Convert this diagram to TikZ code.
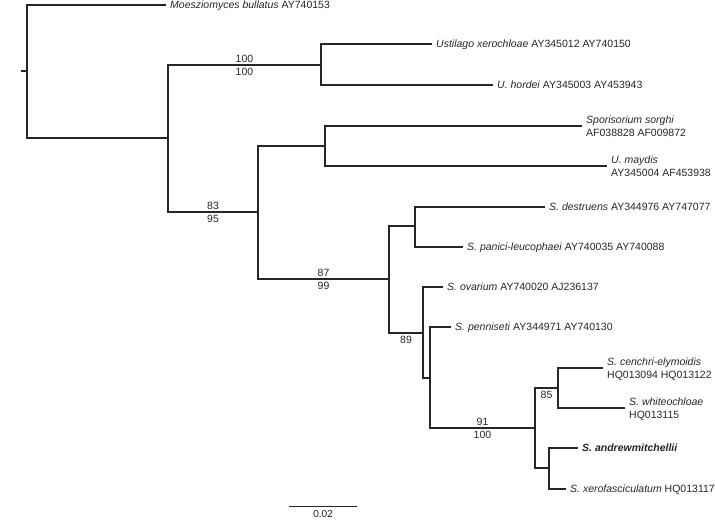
\documentclass[tikz,border=0pt]{standalone}
\usepackage{fontspec}
\setmainfont{Liberation Sans}
\newfontfamily\scalebarfont{Carlito}
\usetikzlibrary{positioning}

\begin{document}
\begin{tikzpicture}[
    x=1pt, y=-1pt,
    branch/.style={line width=1.6pt, line join=miter, color=black!85},
    taxon/.style={anchor=west, inner xsep=4pt, inner ysep=1pt, align=left, text depth=0pt,
                  font=\fontsize{10.5}{12.6}\selectfont, color=black!85},
    support/.style={font=\fontsize{10.5}{12}\selectfont, inner sep=2pt, color=black!85},
]
    \useasboundingbox (0,0) rectangle (715,520);

    % Internal nodes
    \coordinate (stub) at (21,71);
    \coordinate (root) at (27,71);
    \coordinate (nA) at (168,138);
    \coordinate (nB) at (321,65);
    \coordinate (nD) at (258,212);
    \coordinate (nC) at (325,146);
    \coordinate (nE) at (389,279);
    \coordinate (nF) at (415,226);
    \coordinate (nG) at (423,333);
    \coordinate (nH) at (430,378);
    \coordinate (nI) at (535,428);
    \coordinate (nJ) at (558,388);
    \coordinate (nK) at (549,468);

    % Taxa
    \node[taxon] (moes) at (166,5) {\textit{Moesziomyces bullatus} AY740153};
    \node[taxon] (ustx) at (432,44) {\textit{Ustilago xerochloae} AY345012 AY740150};
    \node[taxon] (uhor) at (493,85) {\textit{U. hordei} AY345003 AY453943};
    \node[taxon] (ssor) at (582,126) {\textit{Sporisorium sorghi}\\AF038828 AF009872};
    \node[taxon] (umay) at (607,166) {\textit{U. maydis}\\AY345004 AF453938};
    \node[taxon] (sdes) at (545,207) {\textit{S. destruens} AY344976 AY747077};
    \node[taxon] (span) at (463,247) {\textit{S. panici-leucophaei} AY740035 AY740088};
    \node[taxon] (sova) at (443,287) {\textit{S. ovarium} AY740020 AJ236137};
    \node[taxon] (spen) at (451,327) {\textit{S. penniseti} AY344971 AY740130};
    \node[taxon] (scen) at (603,368) {\textit{S. cenchri-elymoidis}\\HQ013094 HQ013122};
    \node[taxon] (swhi) at (625,408) {\textit{S. whiteochloae}\\HQ013115};
    \node[taxon] (sand) at (578,448) {\textbf{\textit{S. andrewmitchellii}}};
    \node[taxon] (sxer) at (566,489) {\textit{S. xerofasciculatum} HQ013117};

    % Branches
    \draw[branch] (stub) -- (root);
    \draw[branch] (root) |- (moes);
    \draw[branch] (root) |- (nA);
    \draw[branch] (nA) |- (nB)
        node[support, pos=0.75, above] {100} node[support, pos=0.75, below] {100};
    \draw[branch] (nA) |- (nD)
        node[support, pos=0.75, above] {83} node[support, pos=0.75, below] {95};
    \draw[branch] (nB) |- (ustx);
    \draw[branch] (nB) |- (uhor);
    \draw[branch] (nD) |- (nC);
    \draw[branch] (nD) |- (nE)
        node[support, pos=0.75, above] {87} node[support, pos=0.75, below] {99};
    \draw[branch] (nC) |- (ssor);
    \draw[branch] (nC) |- (umay);
    \draw[branch] (nE) |- (nF);
    \draw[branch] (nE) |- (nG)
        node[support, pos=0.75, below] {89};
    \draw[branch] (nF) |- (sdes);
    \draw[branch] (nF) |- (span);
    \draw[branch] (nG) |- (sova);
    \draw[branch] (nG) |- (nH);
    \draw[branch] (nH) |- (spen);
    \draw[branch] (nH) |- (nI)
        node[support, pos=0.75, above] {91} node[support, pos=0.75, below] {100};
    \draw[branch] (nI) |- (nJ)
        node[support, pos=0.75, below] {85};
    \draw[branch] (nI) |- (nK);
    \draw[branch] (nJ) |- (scen);
    \draw[branch] (nJ) |- (swhi);
    \draw[branch] (nK) |- (sand);
    \draw[branch] (nK) |- (sxer);

    % Scale bar
    \coordinate (sbl) at (289,506);
    \coordinate (sbr) at (357,506);
    \draw[line width=0.8pt, color=black!85] (sbl) -- (sbr)
        node[midway, below=1pt, text depth=0pt, font=\scalebarfont\fontsize{11}{13}\selectfont] (sblabel) {0.02};
\end{tikzpicture}
\end{document}
